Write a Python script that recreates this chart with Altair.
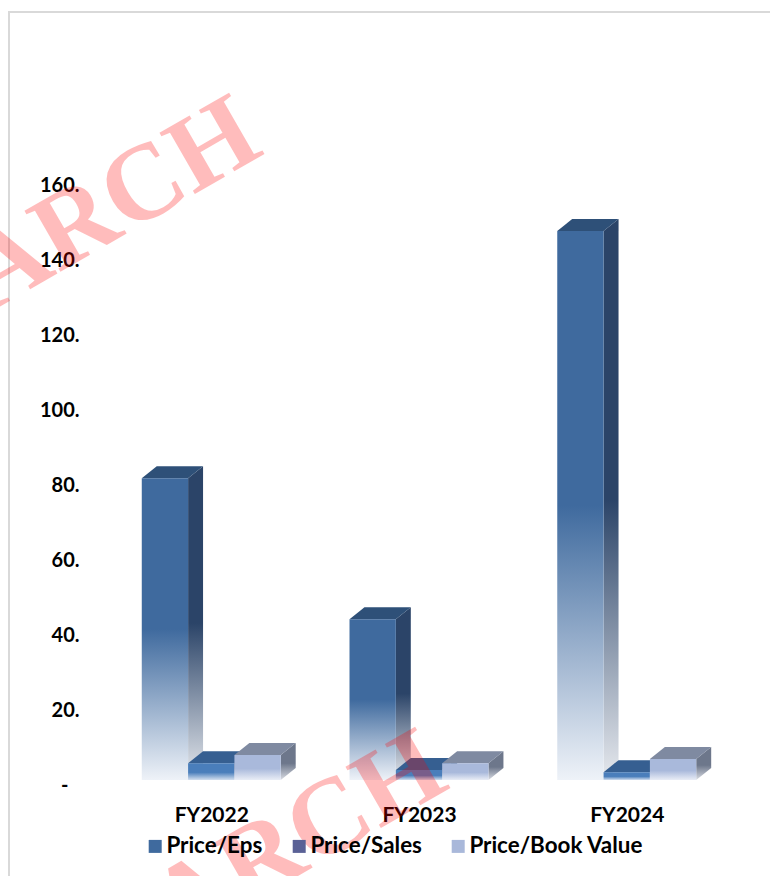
import altair as alt
import pandas as pd

# ---- values -------------------------------------------------------------
categories = ["FY2022", "FY2023", "FY2024"]
series = ["Price/Eps", "Price/Sales", "Price/Book Value"]
price_eps = [80.5, 42.9, 146.4]
price_sales = [4.5, 2.7, 2.1]
price_book = [6.7, 4.5, 5.6]
value_ticks = [0, 20, 40, 60, 80, 100, 120, 140, 160]

values_by_series = [price_eps, price_sales, price_book]

# ---- column geometry (category units on x, value units on y) -----------
BAR_W = 0.223
DEPTH_X = 0.072
DEPTH_Y = 3.2

# ---- palette -------------------------------------------------------------
front_colors = ["#3F6A9E", "#4A7EBB", "#A9B9DB"]
front_fades = ["#EEF2F8", "#D3DFEF", "#E9EDF6"]
side_colors = ["#2B4468", "#2E4A70", "#6D778B"]
side_fades = ["#E6E9EE", "#C9D2DE", "#D9DCE3"]
top_colors = ["#2E5078", "#365F91", "#7F8AA1"]
legend_colors = ["#3F6A9E", "#5A6196", "#A9B8DA"]


def fade(color, bottom, hold):
    return alt.LinearGradient(
        gradient="linear",
        stops=[
            alt.GradientStop(color=color, offset=0),
            alt.GradientStop(color=color, offset=hold),
            alt.GradientStop(color=bottom, offset=1),
        ],
        x1=0, x2=0, y1=0, y2=1,
    )


x_scale = alt.Scale(domain=[-0.55, 2.55], nice=False, zero=False)
y_scale = alt.Scale(domain=[0, 160], nice=False, zero=True)

label_font = dict(labelFont="Lato", labelFontWeight="bold", labelColor="#000000")
x_axis = alt.Axis(
    values=[0, 1, 2],
    labelExpr=f"{categories}[datum.value]",
    title=None, grid=False, domain=False, ticks=False,
    labelFontSize=21, labelPadding=24, labelFlush=False, labelOverlap=False,
    **label_font,
)
y_axis = alt.Axis(
    values=value_ticks,
    labelExpr="datum.value == 0 ? '-' : datum.value + '.'",
    title=None, grid=False, domain=False, ticks=False,
    labelFontSize=20,
    labelPadding={"condition": {"test": "datum.value == 0", "value": 29}, "value": 18},
    labelOffset=5, labelOverlap=False,
    **label_font,
)


def face(rows, paint):
    """One polygonal face of a column, drawn as a ranged area along x."""
    return (
        alt.Chart(pd.DataFrame(rows))
        .mark_area(color=paint)
        .encode(
            x=alt.X("px:Q", scale=x_scale, axis=x_axis),
            y=alt.Y("lo:Q", scale=y_scale, axis=y_axis, stack=None),
            y2="hi:Q",
        )
    )


layers = []

# outer frame
layers.append(
    alt.Chart(alt.Data(values=[{}]))
    .mark_rect(fillOpacity=0, stroke="#D9D9D9", strokeWidth=2)
    .encode(x=alt.value(-88), y=alt.value(-168), x2=alt.value(705), y2=alt.value(720))
)

for j, (name, vals) in enumerate(zip(series, values_by_series)):
    hold = 0.5 if j == 0 else 0.55
    front_rows = []
    for i, v in enumerate(vals):
        x0 = i - 1.5 * BAR_W + j * BAR_W
        x1 = x0 + BAR_W
        front_rows.append(dict(series=name, x0=x0, x1=x1, base=0, v=v))
        # right-hand side face
        layers.append(face(
            [dict(px=x1, lo=0, hi=v),
             dict(px=x1 + DEPTH_X, lo=DEPTH_Y, hi=v + DEPTH_Y)],
            fade(side_colors[j], side_fades[j], hold),
        ))
        # top face
        layers.append(face(
            [dict(px=x0, lo=v, hi=v),
             dict(px=x0 + DEPTH_X, lo=v, hi=v + DEPTH_Y),
             dict(px=x1, lo=v, hi=v + DEPTH_Y),
             dict(px=x1 + DEPTH_X, lo=v + DEPTH_Y, hi=v + DEPTH_Y)],
            top_colors[j],
        ))
    # front faces of this series
    layers.append(
        alt.Chart(pd.DataFrame(front_rows))
        .mark_rect(fill=fade(front_colors[j], front_fades[j], hold))
        .encode(
            x=alt.X("x0:Q", scale=x_scale, axis=x_axis),
            x2="x1:Q",
            y=alt.Y("v:Q", scale=y_scale, axis=y_axis),
            y2="base:Q",
        )
    )

# legend carrier (zero-size swatches, the legend draws the keys)
layers.append(
    alt.Chart(pd.DataFrame({"series": series}))
    .mark_rect()
    .encode(
        x=alt.value(0), x2=alt.value(0), y=alt.value(0), y2=alt.value(0),
        color=alt.Color(
            "series:N",
            sort=series,
            scale=alt.Scale(domain=series, range=legend_colors),
            legend=alt.Legend(
                orient="none", legendX=47, legendY=655, direction="horizontal",
                title=None, labelFont="Lato", labelFontSize=22.4, labelFontWeight="bold",
                labelColor="#000000", symbolType="square", symbolSize=169,
                symbolStrokeWidth=0, symbolOpacity=1, columnPadding=25, labelOffset=0,
                labelLimit=0,
            ),
        ),
    )
)

# diagonal watermark
for wx, wy in [(169, -27), (355, 607)]:
    layers.append(
        alt.Chart(alt.Data(values=[{}]))
        .mark_text(
            text="RESEARCH", font="Liberation Serif", fontWeight="bold", fontSize=108,
            angle=330, align="right", baseline="alphabetic", color="#FF0000", opacity=0.26,
        )
        .encode(x=alt.value(wx), y=alt.value(wy))
    )

chart = (
    alt.layer(*layers)
    .properties(
        width=644, height=600,
        padding={"left": 97, "top": 180, "right": 29, "bottom": 96},
        autosize=alt.AutoSizeParams(type="none"),
        background="#FFFFFF",
    )
    .configure_view(strokeWidth=0)
)

chart.save("out.html", embed_options={"renderer": "svg", "actions": False})
